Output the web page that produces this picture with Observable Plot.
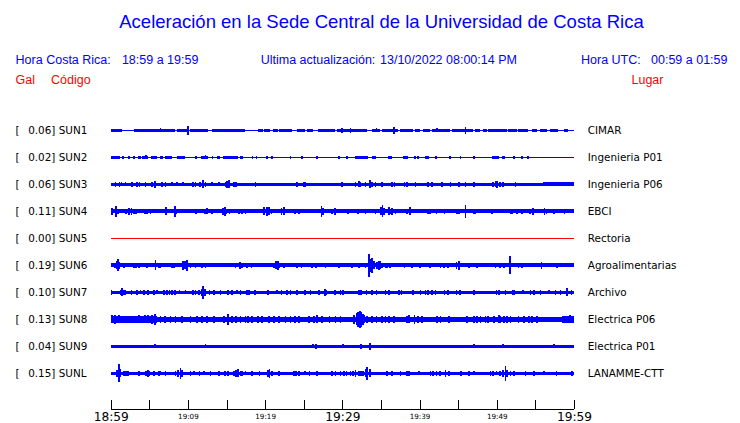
<!DOCTYPE html>
<html><head><meta charset="utf-8">
<script src="https://cdn.jsdelivr.net/npm/d3@7"></script>
<script src="https://cdn.jsdelivr.net/npm/@observablehq/plot@0.6"></script>
<style>
body{margin:0;background:#fff;}
#wrap{position:relative;width:740px;height:423px;overflow:hidden;background:#fff;}
#hdr{position:relative;width:740px;height:100px;font-family:"Liberation Sans",Arial,sans-serif;}
#hdr span{position:absolute;white-space:pre;line-height:1;}
#chart svg{display:block;}
</style></head>
<body><div id="wrap"><div id="hdr"></div><div id="chart"></div></div>
<script>
// ---------- texts ----------
const titleText = "Aceleración en la Sede Central de la Universidad de Costa Rica";
const infoTexts = ["Hora Costa Rica:", "18:59 a 19:59", "Ultima actualización:", "13/10/2022 08:00:14 PM", "Hora UTC:", "00:59 a 01:59"];
const columnHeads = ["Gal", "Código", "Lugar"];

// ---------- stations ----------
const stations = ["SUN1","SUN2","SUN3","SUN4","SUN5","SUN6","SUN7","SUN8","SUN9","SUNL"];
const peakGal = ["0.06","0.02","0.06","0.11","0.00","0.19","0.10","0.13","0.04","0.15"];
const places = ["CIMAR","Ingenieria P01","Ingenieria P06","EBCI","Rectoria","Agroalimentarias","Archivo","Electrica P06","Electrica P01","LANAMME-CTT"];

// ---------- time axis (minutes after 18:59) ----------
const tickMinutes = [0,5,10,15,20,25,30,35,40,45,50,55,60];
const majorMinutes = [0,30,60];
const majorLabels = ["18:59","19:29","19:59"];
const minorMinutes = [10,20,40,50];
const minorLabels = ["19:09","19:19","19:39","19:49"];

// ---------- envelopes: bands [start min, end min, half amplitude], bursts [min, half amplitude] ----------
const band_SUN1 = [[0,60,0.5],[0,1.5,1.5],[3.06,8.33,1.5],[8.55,9.84,1.5],[10.27,12.64,1.5],[13.08,17.39,1.5],[19.04,19.76,1.5],[19.89,20.63,1.5],[21.06,21.70,1.5],[21.80,23.44,1.5],[24.09,25.16,1.5],[25.38,26.24,1.5],[26.88,29.05,1.5],[29.27,33.15,1.5],[33.80,34.87,1.5],[35.09,37.24,1.5],[37.47,39.19,1.5],[39.41,40.06,1.5],[40.48,41.35,1.5],[41.57,42.22,1.5],[42.42,43.94,1.5],[44.16,46.96,1.5],[47.18,47.83,1.5],[48.25,48.69,1.5],[48.90,51.28,1.5],[51.49,52.58,1.5],[52.78,54.08,1.5],[54.52,55.17,1.5],[55.60,56.46,1.5],[56.89,57.97,1.5],[58.70,59.26,1.5]];
const burst_SUN1 = [[6.38,2],[9.40,1.7],[9.97,4.3],[26.03,1.7],[29.92,2.3],[30.99,2.7],[32.71,1.7],[34.36,2],[36.60,3.7],[42.22,2],[45.88,3.3]];

const band_SUN2 = [[0,60,0.5],[0.04,0.91,1.3],[0.98,1.20,1.3],[1.50,1.76,1.3],[2.20,2.50,1.3],[2.93,3.15,1.3],[3.57,3.92,1.3],[4.09,4.87,1.3],[5.22,5.96,1.3],[6.39,6.81,1.3],[7.03,7.90,1.3],[8.55,9.62,1.3],[10.92,11.14,1.3],[11.69,12.64,1.3],[13.08,13.29,1.3],[13.73,14.15,1.3],[14.58,16.52,1.3],[16.74,17.17,1.3],[18.26,18.47,1.3],[18.78,18.91,1.3],[31.64,33.36,1.3],[33.80,34.36,1.3],[37.82,38.54,1.3],[39.28,39.54,1.3],[40.70,41.26,1.3],[42.00,42.30,1.3],[46.88,47.18,1.3],[49.34,50.32,1.3],[50.63,51.06,1.3]];
const burst_SUN2 = [[4.53,2],[9.27,1.7],[11.99,1.7],[12.21,2],[15.02,1.7],[16.32,1.7],[20.20,1.3],[20.85,1.3],[23.22,1.3],[24.74,1.3],[26.68,1.3],[29.48,1.3],[30.56,1.3],[35.95,1.3],[36.26,1.3],[39.71,1.3],[43.85,1.3],[45.23,1.3],[52.14,1.3],[53.22,1.3],[53.95,1.3]];

const band_SUN3 = [[0,56,1.8],[56,60,2.1]];
const burst_SUN3 = [[0.56,2.7],[1.07,2.3],[1.33,2.1],[1.85,2.1],[2.72,2.2],[3.37,2.2],[3.66,2.2],[4.44,2.2],[5.31,2.3],[5.65,3.3],[6.60,2.7],[7.03,2.3],[7.90,2.1],[8.55,2.1],[9.27,2.1],[10.57,2.2],[10.92,2.3],[11.47,2.2],[11.86,4],[12.21,2.7],[13.08,2.1],[13.93,2.1],[14.80,2.3],[15.02,3.3],[15.23,4],[15.88,2.2],[16.19,2.2],[18.69,2.7],[24.09,2.3],[24.94,2.3],[25.16,2.3],[29.92,2.2],[31.64,2.3],[32.07,3],[32.29,2.7],[32.93,2.3],[33.49,4],[33.80,2.3],[34.23,2.3],[35.10,2.3],[36.39,2.3],[36.69,2.3],[37.98,2.3],[38.33,2.3],[39.41,2.3],[41.00,2.3],[41.57,2.3],[42.86,2.3],[43.94,2.3],[45.01,2.3],[45.88,2.3],[46.96,2.7],[49.47,2.3],[49.77,3],[49.99,3.3],[50.32,2.3],[50.71,2.3],[52.36,2.3]];

const band_SUN4 = [[0,60,2.0]];
const burst_SUN4 = [[0.13,3.3],[0.65,5.7],[0.91,2.7],[1.94,2.7],[2.28,3.3],[2.63,3.3],[2.93,2.7],[3.24,2.4],[4.35,2.4],[4.66,2.4],[5.09,2.7],[7.12,4],[8.24,5.7],[8.42,2.7],[11.01,2.4],[12.12,2.7],[12.43,3],[13.08,2.4],[14.45,3.3],[14.71,4.3],[14.89,2.7],[15.32,2.4],[16.52,2.4],[16.96,2.7],[17.39,2.4],[19.76,4],[20.20,4.7],[20.41,4],[20.76,2.7],[22.05,3.3],[22.35,4],[23.78,2.4],[24.29,2.7],[27.23,5.7],[27.40,3.3],[28.62,2.7],[28.96,3.3],[30.64,2.4],[31.94,2.4],[32.93,2.7],[34.23,2.4],[34.97,4],[35.13,6],[35.30,3.3],[35.95,4],[36.17,2.7],[36.39,3.3],[36.82,2.4],[38.33,2.4],[38.67,4],[41.00,2.7],[41.26,2.4],[42.13,2.4],[43.17,2.7],[44.81,2.7],[45.01,2.4],[45.88,6.7],[46.96,2.4],[47.18,2.4],[49.34,2.7],[51.71,2.7],[51.93,2.4],[52.58,2.4],[53.22,2.4],[54.21,2.7],[54.65,3.3],[56.11,3.3],[56.37,2.7],[57.32,2.4],[58.70,2.7]];

const band_SUN5 = [[0,60,0.5]];
const burst_SUN5 = [];

const band_SUN6 = [[0,60,1.9]];
const burst_SUN6 = [[0.47,2.7],[0.78,4],[0.91,6],[1.07,3.3],[1.63,2.3],[2.93,2.3],[3.24,2.2],[3.57,2.3],[4.66,2.2],[5.74,5],[6.16,2.7],[6.38,2.3],[7.90,2.3],[8.11,2.2],[9.27,4.7],[9.53,4],[9.84,5.3],[10.27,2.3],[10.92,2.3],[11.78,2.2],[12.21,2.3],[16.10,2.3],[16.65,3.3],[16.96,2.3],[17.61,2.3],[18.17,2.2],[21.06,2.7],[21.37,4],[21.63,4.7],[21.80,2.7],[22.35,2.2],[24.09,2.3],[24.64,2.7],[26.03,2.3],[26.55,2.7],[27.75,2.2],[29.48,2.3],[31.21,2.2],[32.07,2.3],[32.93,2.3],[33.36,11.7],[33.58,6.7],[33.80,7.3],[34.01,4],[34.45,3.3],[34.66,4.7],[34.87,4],[35.09,2.7],[35.52,2.7],[35.74,2.3],[36.08,2.3],[37.98,2.2],[38.98,2.2],[39.96,2.3],[41.26,2.7],[42.64,2.2],[43.07,2.3],[43.59,2.3],[44.72,3.3],[45.01,4.7],[46.31,2.3],[47.40,2.3],[49.77,2.3],[50.32,2.7],[50.84,2.3],[51.62,9],[52.78,2.7],[53.22,2.7],[55.72,3.3],[57.76,2.3]];

const band_SUN7 = [[0,60,1.8]];
const burst_SUN7 = [[0.05,2.7],[1.20,2.7],[1.42,4],[1.63,2.7],[1.85,2.2],[2.63,2.2],[3.37,2.2],[3.80,2.1],[4.22,2.7],[4.79,2.2],[5.52,2.2],[5.96,2.1],[6.81,2.2],[7.25,2.2],[7.55,2.7],[7.90,2.7],[8.24,2.2],[8.84,2.1],[9.62,2.1],[10.57,2.2],[10.92,2.2],[11.34,2.7],[11.69,3.3],[11.91,6.7],[12.12,3.3],[12.73,2.2],[13.29,2.2],[14.15,2.7],[15.15,2.7],[15.67,2.2],[16.32,2.1],[16.74,2.7],[17.61,2.7],[17.82,2.2],[18.60,2.2],[20.33,2.7],[21.50,2.1],[22.05,2.2],[22.79,2.2],[23.22,2.7],[24.09,2.2],[25.07,2.2],[25.81,2.2],[26.88,2.7],[27.66,3.3],[27.84,2.7],[28.96,2.7],[29.70,2.7],[29.99,2.7],[32.07,2.2],[32.38,2.7],[33.06,2.2],[33.80,2.2],[34.36,2.2],[35.52,2.2],[35.95,2.2],[37.24,2.2],[37.59,2.7],[39.11,2.2],[40.06,2.2],[40.70,2.7],[41.00,2.2],[41.57,2.2],[42.00,2.2],[43.17,2.2],[43.59,2.2],[44.72,2.7],[45.15,2.2],[46.96,2.7],[49.90,2.7],[50.20,2.7],[51.06,2.2],[52.06,2.2],[52.23,2.7],[53.36,2.1],[54.30,2.2],[54.73,2.2],[55.60,2.2],[56.67,2.1],[57.54,2.2],[58.19,2.2],[59.05,4],[59.61,2.7]];

const band_SUN8 = [[0,6,3.6],[6,58.5,2.8],[58.5,60,3.4]];
const burst_SUN8 = [[0.13,4],[0.47,4.7],[0.98,4],[1.85,3.8],[2.37,3.8],[3.06,3.8],[3.57,4],[3.92,3.8],[4.35,4],[4.79,4],[5.31,4.7],[5.65,5.3],[6.38,3.4],[6.94,3.2],[7.68,3.4],[8.33,3.4],[9.20,3.2],[10.27,3.2],[11.14,3.7],[11.78,3.4],[12.43,3.4],[13.29,3.4],[14.58,3.4],[15.15,5.3],[15.67,3.4],[16.19,3.4],[16.74,3.4],[17.39,3.4],[17.74,3.4],[18.26,3.2],[19.04,3.4],[19.56,3.4],[20.41,3.2],[21.06,3.4],[21.70,3.4],[22.57,3.4],[23.22,3.4],[23.78,3.4],[24.29,3.4],[25.59,3.4],[26.24,3.4],[26.68,4],[27.32,3.4],[28.27,3.4],[29.05,3.4],[29.70,3.4],[31.42,4.7],[31.77,6],[31.94,7.3],[32.20,8.7],[32.38,7.3],[32.64,5.3],[32.81,4],[33.15,3.4],[33.80,3.4],[34.36,3.4],[35.10,3.4],[35.52,3.4],[35.95,3.4],[36.60,3.4],[38.33,3.4],[38.54,4],[39.28,4.7],[39.71,3.4],[40.27,3.4],[42.22,3.4],[42.64,3.4],[43.72,3.4],[46.10,3.4],[46.96,3.4],[47.40,3.4],[47.83,3.4],[48.47,3.4],[48.77,3.4],[49.55,3.4],[50.20,4],[50.42,3.4],[50.84,3.4],[51.28,3.4],[51.71,3.4],[52.78,3.4],[53.43,3.4],[54.08,3.4],[54.52,3.4],[55.17,3.4],[59.05,3.4],[59.39,4],[59.70,3.4]];

const band_SUN9 = [[0,16.5,1.6],[16.5,60,1.3]];
const burst_SUN9 = [[5.65,2.1],[12.21,2.1],[18.91,1.8],[19.98,1.8],[20.85,1.8],[21.70,1.8],[22.15,1.8],[22.79,1.8],[23.44,1.8],[24.22,1.8],[24.74,1.8],[25.16,1.8],[25.59,1.8],[26.11,2],[26.55,2.7],[26.88,1.8],[27.75,1.8],[28.62,1.8],[29.48,1.8],[29.99,2],[32.38,2.7],[33.49,3.3],[35.82,1.8],[39.63,1.8],[42.56,1.8],[43.94,1.8],[45.01,1.8],[46.96,2],[48.69,1.8],[50.71,2],[52.14,1.8],[53.87,1.8],[55.82,1.8],[57.32,2],[58.70,1.8],[59.48,1.8]];

const band_SUNL = [[0,60,1.8]];
const burst_SUNL = [[0.78,3.3],[0.98,9],[1.20,4],[1.63,2.2],[1.94,2.7],[2.20,2.2],[3.57,2.7],[4.53,2.2],[4.79,3.3],[4.96,2.7],[5.52,2.2],[6.16,2.2],[6.38,2.1],[7.03,2.7],[8.33,2.7],[8.68,3.3],[8.98,5.3],[9.20,3.3],[10.27,2.2],[10.70,2.1],[11.43,2.2],[11.99,2.1],[12.86,2.2],[13.93,2.2],[14.71,2.7],[15.15,2.2],[15.88,2.7],[16.19,3.3],[16.45,4],[16.74,2.7],[16.96,2.2],[17.39,2.1],[18.26,2.2],[19.21,2.7],[20.33,3.3],[20.51,4.7],[20.85,2.2],[21.70,2.2],[23.65,2.2],[23.96,2.2],[24.29,2.2],[25.07,2.1],[25.68,2.2],[26.68,2.7],[28.62,2.7],[29.05,2.2],[29.70,2.2],[30.12,2.2],[30.47,2.2],[30.99,2.7],[31.34,2.2],[31.64,3.3],[32.07,2.7],[32.38,2.2],[32.64,2.2],[32.93,4],[33.15,6.7],[33.49,4],[35.74,2.2],[36.39,2.2],[37.47,2.2],[38.33,2.2],[38.54,2.7],[39.84,2.1],[41.35,2.2],[41.70,2.7],[42.13,2.7],[42.56,2.7],[43.30,3.3],[43.72,2.2],[45.33,2.7],[46.31,2.2],[46.96,2.1],[49.12,2.7],[49.47,2.2],[49.90,2.1],[50.32,2.7],[50.76,3.3],[51.06,7.3],[51.28,3.3],[51.71,2.2],[52.14,2.7],[53.66,2.2],[54.73,2.2],[56.03,2.1],[57.67,2.2],[59.70,2.2]];

const bandLists = [band_SUN1,band_SUN2,band_SUN3,band_SUN4,band_SUN5,band_SUN6,band_SUN7,band_SUN8,band_SUN9,band_SUNL];
const burstLists = [burst_SUN1,burst_SUN2,burst_SUN3,burst_SUN4,burst_SUN5,burst_SUN6,burst_SUN7,burst_SUN8,burst_SUN9,burst_SUNL];

// ---------- header ----------
const BLUE = "#0000ff", RED = "#ff0000";
const hdr = document.getElementById("hdr");
function addSpan(text, left, top, size, color, center) {
  const s = document.createElement("span");
  s.textContent = text;
  s.style.left = left + "px";
  s.style.top = top + "px";
  s.style.fontSize = size + "px";
  s.style.color = color;
  if (center) s.style.transform = "translateX(-50%)";
  hdr.appendChild(s);
}
addSpan(titleText, 381.5, 12.8, 18.5, BLUE, true);
const infoX = [15.6, 121.9, 260.7, 380, 581, 651];
infoTexts.forEach((t, i) => addSpan(t, infoX[i], 54.4, 12.5, BLUE));
const headX = [15.6, 51, 631.5];
columnHeads.forEach((t, i) => addSpan(t, headX[i], 74.4, 12.5, RED));

// ---------- chart ----------
const ROW = 27;            // amplitude units per trace spacing
const axisRow = 10.32, tickTop = 9.97, minorRow = 10.674, majorRow = 10.74;
const bandRows = [], burstRows = [];
stations.forEach((s, i) => {
  bandLists[i].forEach(([t0, t1, a]) => bandRows.push({i, t0, t1, a}));
  burstLists[i].forEach(([t, a]) => burstRows.push({i, t, a}));
});
const colorOf = i => (i === 4 ? RED : BLUE);

const chart = Plot.plot({
  width: 740, height: 323,
  marginLeft: 110.7, marginRight: 166, marginTop: 0, marginBottom: 14,
  x: {domain: [0, 60], axis: null},
  y: {domain: [0, axisRow], range: [30.3, 309], axis: null},
  color: {type: "identity"},
  style: {background: "white", fontFamily: "DejaVu Sans", fontSize: "10.4px", color: "black", overflow: "visible"},
  marks: [
    Plot.rect(bandRows, {x1: "t0", x2: "t1", y1: d => d.i - d.a / ROW, y2: d => d.i + d.a / ROW, fill: d => colorOf(d.i), shapeRendering: "crispEdges"}),
    Plot.ruleX(burstRows, {x: "t", y1: d => d.i - d.a / ROW, y2: d => d.i + d.a / ROW, stroke: d => colorOf(d.i), strokeWidth: 1.5, shapeRendering: "crispEdges"}),
    Plot.text(stations, {y: (d, i) => i, text: () => "[", frameAnchor: "left", dx: -95.7, textAnchor: "start", fill: "black"}),
    Plot.text(stations, {y: (d, i) => i, text: (d, i) => peakGal[i] + "] " + d, frameAnchor: "left", dx: -83, textAnchor: "start", fill: "black"}),
    Plot.text(places, {y: (d, i) => i, text: d => d, frameAnchor: "right", dx: 13.3, textAnchor: "start", fill: "black"}),
    Plot.ruleY([axisRow], {x1: 0, x2: 60, stroke: "black", shapeRendering: "crispEdges"}),
    Plot.ruleX(tickMinutes, {x: d => d, y1: tickTop, y2: axisRow, stroke: "black", shapeRendering: "crispEdges"}),
    Plot.text(minorMinutes, {x: d => d, y: minorRow, text: (d, i) => minorLabels[i], fontSize: 7.2, lineAnchor: "bottom", fill: "black"}),
    Plot.text(majorMinutes, {x: d => d, y: majorRow, text: (d, i) => majorLabels[i], fontSize: 12.2, lineAnchor: "bottom", fill: "black"})
  ]
});
document.getElementById("chart").appendChild(chart);
</script>
</body></html>
